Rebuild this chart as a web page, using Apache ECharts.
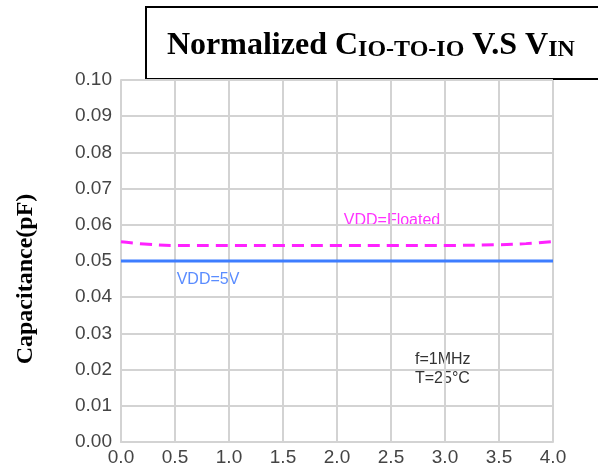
<!DOCTYPE html>
<html>
<head>
<meta charset="utf-8">
<script src="https://cdn.jsdelivr.net/npm/echarts@6/dist/echarts.min.js"></script>
<style>html,body{margin:0;padding:0;background:#fff}#c{width:598px;height:471px}</style>
</head>
<body>
<div id="c"></div>
<script>
var xFloated = [0, 0.25, 0.5, 1.0, 1.5, 2.0, 2.5, 3.0, 3.5, 3.75, 4.0];
var vddFloated = [0.0553, 0.0546, 0.0543, 0.0543, 0.0543, 0.0543, 0.0543, 0.0543, 0.0545, 0.0548, 0.0554];
var x5V = [0, 4.0];
var vdd5V = [0.050, 0.050];
var xTicks = ['0.0','0.5','1.0','1.5','2.0','2.5','3.0','3.5','4.0'];
var yTicks = ['0.00','0.01','0.02','0.03','0.04','0.05','0.06','0.07','0.08','0.09','0.10'];

var chart = echarts.init(document.getElementById('c'));
var gridColor = '#d3d3d3';
chart.setOption({
  animation: false,
  grid: {left: 121, right: 45, top: 80, bottom: 29, containLabel: false},
  xAxis: {
    type: 'value', min: 0, max: 4, interval: 0.5,
    axisLine: {show: true, lineStyle: {color: gridColor, width: 2}},
    axisTick: {show: false},
    splitLine: {show: true, lineStyle: {color: gridColor, width: 2}},
    axisLabel: {color: '#444', fontSize: 19, fontFamily: 'Liberation Sans, Arial', margin: 6,
      formatter: function(v){ return xTicks[Math.round(v/0.5)]; }}
  },
  yAxis: {
    type: 'value', min: 0, max: 0.1, interval: 0.01,
    axisLine: {show: true, lineStyle: {color: gridColor, width: 2}},
    axisTick: {show: false},
    splitLine: {show: true, lineStyle: {color: gridColor, width: 2}},
    axisLabel: {color: '#444', fontSize: 19, fontFamily: 'Liberation Sans, Arial', margin: 9,
      formatter: function(v){ return yTicks[Math.round(v/0.01)]; }}
  },
  series: [
    {type: 'line', name: 'VDD=5V', data: x5V.map(function(x,i){return [x, vdd5V[i]];}),
     showSymbol: false, lineStyle: {color: '#3d7dff', width: 3}},
    {type: 'line', name: 'VDD=Floated', smooth: 0.4, data: xFloated.map(function(x,i){return [x, vddFloated[i]];}),
     showSymbol: false, lineStyle: {color: '#ff22ff', width: 3, type: [12, 7]}}
  ],
  graphic: [
    {type: 'rect', shape: {x: 146, y: 7, width: 470, height: 72},
     style: {fill: '#fff', stroke: '#000', lineWidth: 2}},
    {type: 'text', left: 167, top: 30,
     style: {
       text: '{n|Normalized C}{s|IO-TO-IO}{n| V.S V}{s|IN}',
       rich: {
         n: {fontFamily: 'Liberation Serif, Times New Roman', fontWeight: 'bold', fontSize: 32, fill: '#000', lineHeight: 36, verticalAlign: 'bottom'},
         s: {fontFamily: 'Liberation Serif, Times New Roman', fontWeight: 'bold', fontSize: 24, fill: '#000', lineHeight: 25, verticalAlign: 'bottom'}
       }
     }},
    {type: 'text', x: 26, y: 279, rotation: Math.PI/2,
     style: {text: 'Capacitance(pF)', fontFamily: 'Liberation Serif, Times New Roman', fontWeight: 'bold', fontSize: 24,
       fill: '#000', textAlign: 'center', textVerticalAlign: 'middle'}},
    {type: 'text', x: 392, y: 221,
     style: {text: 'VDD=Floated', fontFamily: 'Liberation Sans, Arial', fontSize: 16, fill: '#ff33ff',
       textAlign: 'center', textVerticalAlign: 'middle', backgroundColor: '#fff', padding: [7, 7, 7, 7]}},
    {type: 'text', x: 208, y: 280,
     style: {text: 'VDD=5V', fontFamily: 'Liberation Sans, Arial', fontSize: 16, fill: '#5a8cff',
       textAlign: 'center', textVerticalAlign: 'middle'}},
    {type: 'text', x: 410, y: 369,
     style: {text: 'f=1MHz\nT=25°C', fontFamily: 'Liberation Sans, Arial', fontSize: 16, lineHeight: 19, fill: '#333',
       textAlign: 'left', textVerticalAlign: 'middle', backgroundColor: '#fff', padding: [5, 10, 5, 5]}}
  ]
});
</script>
</body>
</html>
